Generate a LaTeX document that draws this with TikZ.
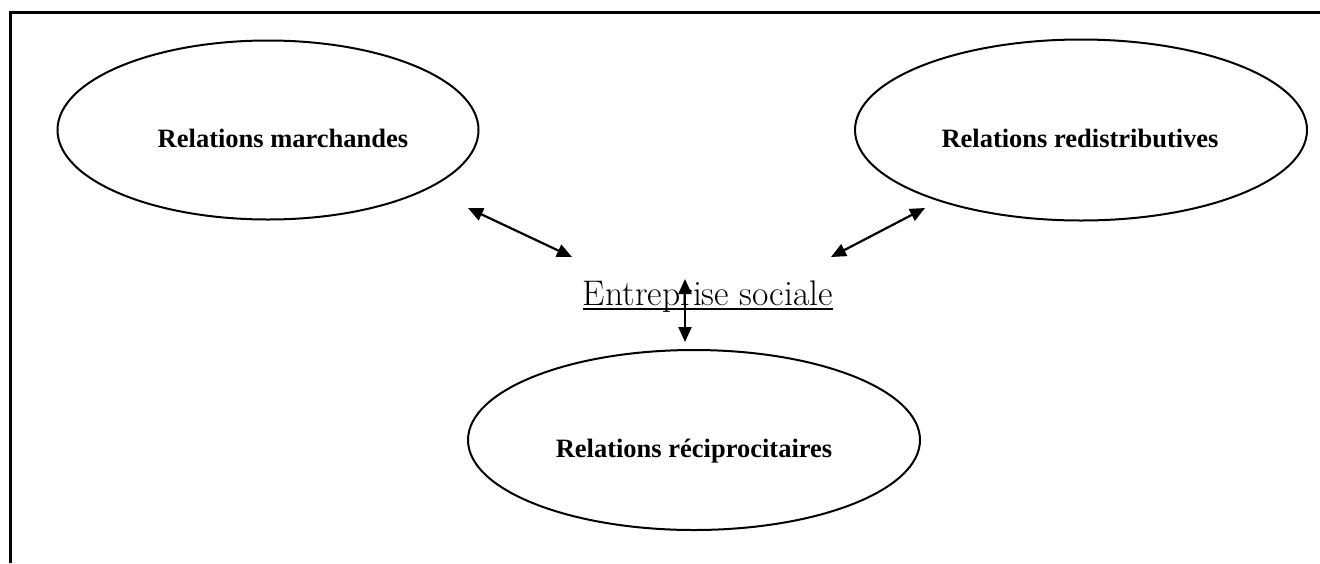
\documentclass[tikz,border=0pt]{standalone}
\usepackage{fontspec}
\newfontfamily\timesfont{Liberation Serif}
\usetikzlibrary{shapes.geometric,arrows.meta}

\tikzset{
  relation/.style={draw, ellipse, line width=1pt, inner sep=0pt},
  rellabel/.style={anchor=base, inner sep=0pt, font=\timesfont\bfseries\fontsize{13.25}{16}\selectfont},
  link/.style={line width=1.1pt, {Triangle[length=7.5pt,width=6.5pt]}-{Triangle[length=7.5pt,width=6.5pt]}},
}

\begin{document}
\begin{tikzpicture}[x=0.5pt,y=-0.5pt]
  \useasboundingbox (0,0) rectangle (1320,563);
  \draw[line width=1.5pt] (1320,12) -- (10,12) -- (10,563);

  \node[relation, minimum width=210.5pt, minimum height=89.5pt,
    label={[rellabel, xshift=7.5pt, yshift=-4pt]center:Relations marchandes}] (march) at (268,130) {};
  \node[relation, minimum width=226pt, minimum height=90.5pt,
    label={[rellabel, xshift=-0.5pt, yshift=-4pt]center:Relations redistributives}] (redis) at (1081,130) {};
  \node[relation, minimum width=226pt, minimum height=90pt,
    label={[rellabel, yshift=-5.5pt]center:Relations réciprocitaires}] (recip) at (694,440) {};

  \node[anchor=base, inner sep=0pt, font=\fontsize{17.8}{21}\selectfont] (firm) at (708,305) {Entreprise sociale};
  \draw[line width=1pt] ([yshift=-2pt]firm.base west) -- ([yshift=-2pt]firm.base east);

  \coordinate (marchEnd) at (468,208);
  \coordinate (firmW) at (572,257);
  \coordinate (redisEnd) at (925,208);
  \coordinate (firmE) at (831,257);
  \coordinate (firmN) at (685,279);
  \coordinate (recipEnd) at (685,342);
  \draw[link] (marchEnd) -- (firmW);
  \draw[link] (firmE) -- (redisEnd);
  \draw[link] (firmN) -- (recipEnd);
\end{tikzpicture}
\end{document}
